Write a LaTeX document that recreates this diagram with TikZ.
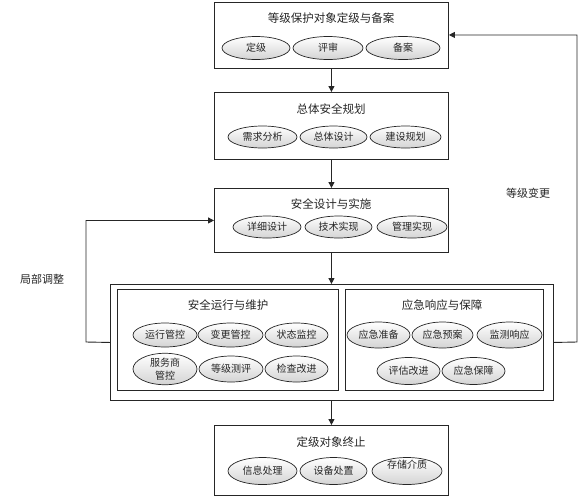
\documentclass[tikz,border=0pt]{standalone}
\usepackage{fontspec}
\setmainfont{Noto Sans CJK SC}
\usetikzlibrary{shapes.geometric,arrows.meta}
\tikzset{
 box/.style={draw=black!85, line width=0.9pt, fill=white, anchor=north west, inner sep=0pt},
 ell/.style={ellipse, draw=black!85, line width=0.7pt, top color=white, bottom color=black!17, inner sep=0pt, align=center, font=\fontsize{10}{12}\selectfont, text=black!85},
 ttl/.style={font=\fontsize{11.5}{13}\selectfont, text=black!85},
 lbl/.style={font=\fontsize{11}{13}\selectfont, text=black!85},
 arr/.style={-{Triangle[length=6pt,width=6pt]}, line width=0.9pt, draw=black!85}
}
\begin{document}
\begin{tikzpicture}[x=1pt,y=-1pt]
\useasboundingbox (0,0) rectangle (580,499);
\fill[white] (0,0) rectangle (580,499);
% boxes
\node[box, minimum width=234, minimum height=66] (b1) at (214,1.5) {};
\node[box, minimum width=234, minimum height=67] (b2) at (214,92) {};
\node[box, minimum width=234, minimum height=64] (b3) at (214,188) {};
\node[box, minimum width=443, minimum height=116] (big) at (110,284) {};
\node[box, minimum width=221, minimum height=101] (inl) at (117,289) {};
\node[box, minimum width=198, minimum height=101] (inr) at (345,289) {};
\node[box, minimum width=234, minimum height=70] (b5) at (214,425) {};
% titles
\node[ttl] (t1) at (331,18) {等级保护对象定级与备案};
\node[ttl] (t2) at (331,109) {总体安全规划};
\node[ttl] (t3) at (331,204) {安全设计与实施};
\node[ttl] (tl) at (228,305) {安全运行与维护};
\node[ttl] (tr) at (442,305) {应急响应与保障};
\node[ttl] (t5) at (331,442) {定级对象终止};
% ellipses box 1
\node[ell, minimum width=68, minimum height=23] (e11) at (256,48) {定级};
\node[ell, minimum width=70, minimum height=23] (e12) at (328,48) {评审};
\node[ell, minimum width=74, minimum height=23] (e13) at (403,48) {备案};
% box 2
\node[ell, minimum width=69, minimum height=22] (e21) at (262.5,137) {需求分析};
\node[ell, minimum width=67, minimum height=22] (e22) at (333.5,137) {总体设计};
\node[ell, minimum width=71, minimum height=22] (e23) at (405.5,137) {建设规划};
% box 3
\node[ell, minimum width=68, minimum height=22] (e31) at (267,227) {详细设计};
\node[ell, minimum width=67, minimum height=22] (e32) at (338.5,227) {技术实现};
\node[ell, minimum width=70, minimum height=22] (e33) at (412,227) {管理实现};
% inner left
\node[ell, minimum width=64, minimum height=24] (l11) at (165,335) {运行管控};
\node[ell, minimum width=65, minimum height=24] (l12) at (230.5,335) {变更管控};
\node[ell, minimum width=63, minimum height=24] (l13) at (296.5,335) {状态监控};
\node[ell, minimum width=64, minimum height=27, font=\fontsize{10}{13}\selectfont] (l21) at (165,369) {服务商\\管控};
\node[ell, minimum width=64, minimum height=26] (l22) at (231,369) {等级测评};
\node[ell, minimum width=63, minimum height=26] (l23) at (296.5,369) {检查改进};
% inner right
\node[ell, minimum width=63, minimum height=26] (r11) at (378.5,335) {应急准备};
\node[ell, minimum width=61, minimum height=26] (r12) at (442.5,335) {应急预案};
\node[ell, minimum width=65, minimum height=26] (r13) at (509.5,335) {监测响应};
\node[ell, minimum width=63, minimum height=27] (r21) at (408.5,371) {评估改进};
\node[ell, minimum width=63, minimum height=27] (r22) at (473.5,371) {应急保障};
% box 5
\node[ell, minimum width=69, minimum height=27] (e51) at (262.5,471) {信息处理};
\node[ell, minimum width=67, minimum height=27] (e52) at (333.5,471) {设备处置};
\node[ell, minimum width=70, minimum height=27] (e53) at (407,471) {};
\node[font=\fontsize{10}{12}\selectfont, text=black!85] (t53) at (407,465) {存储介质};
% arrows
\draw[arr] (b1.south) -- (b2.north);
\draw[arr] (b2.south) -- (b3.north);
\draw[arr] (b3.south) -- (b3.south |- big.north);
\draw[arr] (b5.north |- big.south) -- (b5.north);
\coordinate (lc) at (86,342);
\coordinate (rc) at (577,342);
\draw[arr] (big.west) -- (lc) |- (b3.west);
\draw[arr] (big.east) -- (rc) |- (b1.east);
% labels
\node[lbl] (lj) at (42,279) {局部调整};
\node[lbl] (dj) at (528,193) {等级变更};
\end{tikzpicture}
\end{document}
